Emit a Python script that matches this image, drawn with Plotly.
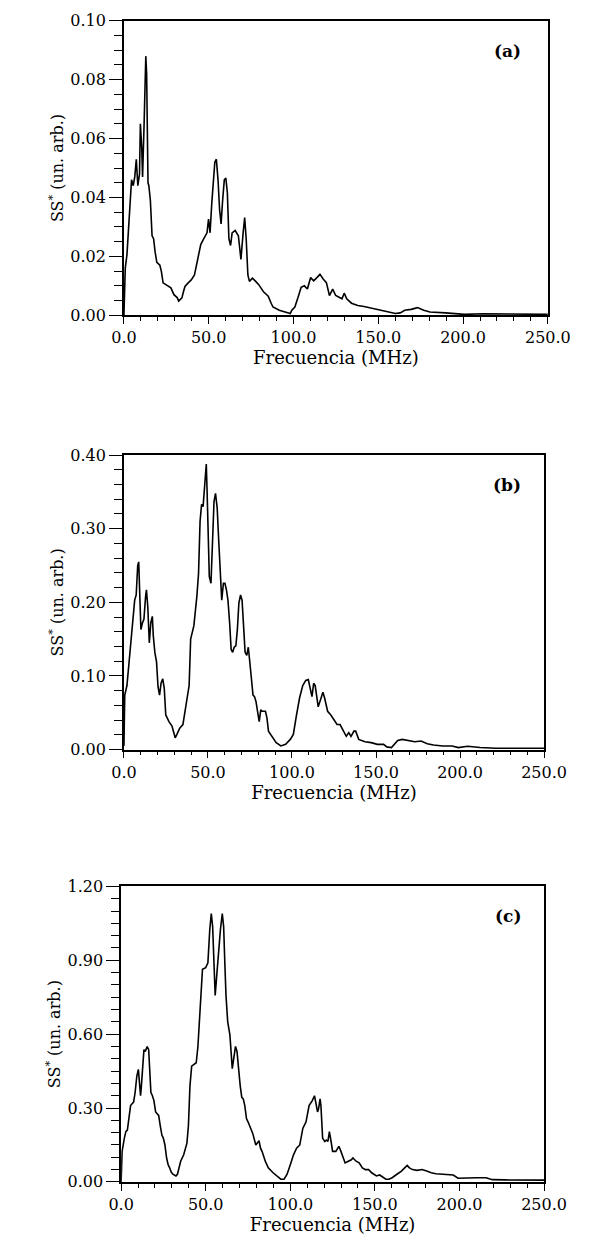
import plotly.graph_objects as go

# ---------------- data ----------------
freq_a = [0, 0.8, 1.8, 2.7, 3.6, 4.5, 5.5, 6.4, 7.3, 8.2, 9.2, 9.7, 10.5, 11.0, 11.9, 12.9, 13.4,
          14.2, 14.7, 15.6, 16.6, 17.5, 18.4, 19.4, 21.2, 22.1, 23.1, 24.9, 26.8, 27.7, 29.5, 31.4,
          32.3, 34.2, 35.1, 36.0, 37.9, 39.7, 41.6, 43.4, 45.3, 47.1, 49.0, 49.9, 50.8, 51.8, 52.7,
          53.6, 54.5, 55.5, 56.4, 57.3, 58.2, 59.2, 60.1, 61.0, 61.9, 62.9, 63.8, 65.6, 67.5, 69.0,
          70.3, 71.2, 72.1, 73.1, 74.0, 75.8, 77.7, 79.5, 82.3, 85.1, 86.9, 87.9, 91.6, 95.3, 98.1,
          99.0, 100.8, 102.7, 104.5, 106.4, 108.2, 110.1, 111.9, 113.8, 115.6, 117.5, 119.4, 121.2,
          123.1, 124.9, 126.8, 128.6, 129.9, 131.4, 134.2, 137.9, 141.6, 145.3, 149.0, 152.7, 156.4,
          160.1, 162.9, 165.6, 169.4, 173.1, 176.8, 180.5, 189.7, 200.8, 211.9, 230.5, 250.0]
ss_a = [0.000, 0.016, 0.0206, 0.0295, 0.0373, 0.046, 0.044, 0.047, 0.053, 0.044, 0.048, 0.065, 0.057,
        0.047, 0.065, 0.088, 0.082, 0.045, 0.044, 0.039, 0.027, 0.026, 0.0215, 0.018, 0.017, 0.0148,
        0.011, 0.0104, 0.0098, 0.0093, 0.007, 0.006, 0.0048, 0.0059, 0.008, 0.0098, 0.011, 0.012,
        0.0137, 0.019, 0.024, 0.026, 0.028, 0.0327, 0.028, 0.038, 0.046, 0.052, 0.053, 0.046, 0.036,
        0.031, 0.039, 0.046, 0.0466, 0.0416, 0.026, 0.0237, 0.028, 0.0288, 0.027, 0.019, 0.028,
        0.0332, 0.026, 0.0137, 0.0115, 0.0126, 0.0115, 0.0104, 0.008, 0.0065, 0.004, 0.0028, 0.0017,
        0.0011, 0.0006, 0.0017, 0.0028, 0.0061, 0.0095, 0.010, 0.0089, 0.0128, 0.0117, 0.0128,
        0.0139, 0.0123, 0.0111, 0.0067, 0.0089, 0.0067, 0.0061, 0.0056, 0.0075, 0.0056, 0.0041,
        0.0033, 0.003, 0.0025, 0.0022, 0.0017, 0.0011, 0.0006, 0.0008, 0.0017, 0.002, 0.0026,
        0.0017, 0.0011, 0.0008, 0.0003, 0.0005, 0.0003, 0.0003]

freq_b = [0, 0.5, 1.8, 2.7, 4.5, 6.4, 7.3, 8.2, 8.8, 9.4, 10.1, 11.0, 11.9, 12.9, 13.4, 14.2, 15.1,
          16.0, 16.9, 17.5, 18.4, 19.4, 20.3, 21.2, 22.1, 23.1, 24.0, 24.9, 26.8, 28.6, 30.5, 31.4,
          33.2, 35.1, 37.0, 38.8, 39.7, 41.6, 43.4, 44.4, 45.3, 46.2, 47.1, 48.1, 49.0, 49.5, 50.3,
          50.8, 51.8, 52.7, 53.6, 54.5, 55.5, 56.4, 57.3, 58.2, 59.2, 60.1, 61.0, 61.9, 62.9, 63.8,
          64.7, 65.6, 66.6, 67.5, 68.4, 69.4, 70.3, 71.2, 72.1, 73.1, 74.0, 74.9, 75.8, 76.8, 77.7,
          78.6, 79.5, 80.5, 81.4, 82.3, 84.2, 85.1, 86.0, 87.9, 90.6, 93.4, 96.2, 99.0, 100.8, 102.7,
          104.5, 106.4, 108.2, 109.7, 111.0, 111.9, 112.9, 113.8, 115.6, 116.6, 117.5, 118.4, 119.4,
          121.2, 123.1, 124.9, 126.8, 128.6, 130.5, 132.3, 133.8, 135.1, 136.9, 137.9, 139.7, 143.4,
          147.1, 150.8, 154.5, 156.4, 159.2, 161.0, 162.9, 165.6, 169.4, 173.1, 176.8, 180.5, 184.2,
          189.7, 195.3, 199.0, 204.5, 211.9, 221.2, 230.5, 245.3, 250.0]
ss_b = [0.005, 0.074, 0.087, 0.11, 0.152, 0.203, 0.21, 0.25, 0.255, 0.217, 0.163, 0.172, 0.177,
        0.208, 0.217, 0.194, 0.145, 0.172, 0.181, 0.154, 0.132, 0.119, 0.085, 0.074, 0.09, 0.096,
        0.083, 0.047, 0.038, 0.032, 0.016, 0.02, 0.029, 0.034, 0.065, 0.087, 0.15, 0.168, 0.208,
        0.239, 0.31, 0.333, 0.33, 0.368, 0.388, 0.35, 0.293, 0.235, 0.226, 0.288, 0.337, 0.348,
        0.328, 0.284, 0.235, 0.203, 0.226, 0.226, 0.217, 0.203, 0.172, 0.136, 0.132, 0.139, 0.141,
        0.163, 0.199, 0.21, 0.203, 0.163, 0.132, 0.128, 0.139, 0.119, 0.1, 0.074, 0.072, 0.065,
        0.052, 0.038, 0.054, 0.052, 0.052, 0.043, 0.025, 0.018, 0.0094, 0.0049, 0.0071, 0.0138,
        0.0205, 0.047, 0.07, 0.087, 0.094, 0.095, 0.083, 0.072, 0.09, 0.087, 0.058, 0.065, 0.074,
        0.078, 0.07, 0.052, 0.047, 0.041, 0.034, 0.034, 0.025, 0.018, 0.023, 0.018, 0.025, 0.025,
        0.0138, 0.0107, 0.0094, 0.0071, 0.0071, 0.0036, 0.0027, 0.0071, 0.0125, 0.0138, 0.0125,
        0.0107, 0.0116, 0.008, 0.0062, 0.0049, 0.0049, 0.0027, 0.0045, 0.0027, 0.0018, 0.0018,
        0.0018, 0.0018]

freq_c = [0, 0.6, 1.9, 2.8, 3.7, 4.6, 5.6, 6.5, 7.4, 8.3, 9.3, 10.2, 10.7, 11.5, 12.0, 13.0, 13.5,
          14.3, 15.4, 16.3, 17.0, 17.6, 18.5, 19.4, 20.4, 21.3, 22.2, 23.1, 24.1, 25.0, 25.9, 26.9,
          27.8, 28.7, 29.6, 30.6, 32.4, 33.3, 34.3, 35.2, 37.0, 38.9, 39.8, 40.7, 41.7, 43.5, 44.4,
          45.4, 46.3, 47.2, 48.1, 50.0, 51.3, 52.4, 53.3, 54.1, 55.0, 55.6, 56.5, 57.4, 58.7, 59.8,
          60.6, 61.3, 62.0, 63.0, 64.3, 65.7, 66.7, 67.6, 68.5, 69.4, 70.4, 71.3, 72.2, 73.1, 74.1,
          75.0, 75.9, 77.8, 79.6, 80.6, 81.5, 82.4, 83.3, 85.2, 87.0, 89.8, 92.6, 94.4, 96.3, 98.1,
          100.0, 101.9, 103.7, 105.6, 107.4, 109.3, 111.1, 113.0, 114.3, 115.4, 116.1, 116.7, 117.6,
          118.1, 119.1, 120.4, 121.3, 122.2, 123.1, 124.1, 125.0, 126.9, 128.7, 129.6, 131.5, 132.4,
          134.3, 136.1, 137.0, 138.9, 140.7, 142.6, 144.4, 146.3, 148.1, 150.9, 152.8, 154.6, 156.5,
          158.3, 160.2, 163.0, 165.7, 167.6, 169.1, 170.4, 172.2, 175.0, 177.8, 180.6, 183.3, 186.1,
          189.8, 193.5, 196.3, 199.1, 204.6, 210.2, 215.7, 219.4, 226.9, 236.1, 247.2, 250.0]
ss_c = [0.0, 0.124, 0.177, 0.204, 0.21, 0.257, 0.31, 0.317, 0.324, 0.364, 0.43, 0.457, 0.417, 0.35,
        0.39, 0.497, 0.537, 0.53, 0.55, 0.537, 0.444, 0.364, 0.35, 0.33, 0.284, 0.277, 0.27, 0.23,
        0.19, 0.177, 0.15, 0.097, 0.07, 0.057, 0.04, 0.031, 0.024, 0.031, 0.064, 0.084, 0.11, 0.157,
        0.23, 0.39, 0.47, 0.477, 0.484, 0.55, 0.65, 0.72, 0.864, 0.87, 0.89, 1.024, 1.09, 1.037,
        0.837, 0.757, 0.837, 0.917, 1.024, 1.09, 1.037, 0.89, 0.757, 0.65, 0.597, 0.46, 0.52, 0.55,
        0.53, 0.45, 0.39, 0.344, 0.337, 0.31, 0.257, 0.244, 0.23, 0.197, 0.15, 0.157, 0.167, 0.137,
        0.124, 0.084, 0.057, 0.037, 0.021, 0.011, 0.011, 0.031, 0.07, 0.11, 0.137, 0.15, 0.217,
        0.244, 0.31, 0.33, 0.35, 0.31, 0.284, 0.297, 0.337, 0.31, 0.177, 0.164, 0.17, 0.164, 0.204,
        0.164, 0.124, 0.124, 0.144, 0.13, 0.097, 0.077, 0.084, 0.09, 0.097, 0.084, 0.077, 0.057,
        0.05, 0.05, 0.037, 0.024, 0.028, 0.02, 0.011, 0.011, 0.017, 0.031, 0.044, 0.057, 0.067,
        0.057, 0.05, 0.047, 0.05, 0.044, 0.037, 0.033, 0.031, 0.028, 0.028, 0.015, 0.017, 0.017,
        0.017, 0.009, 0.008, 0.007, 0.007, 0.007]

panel_labels = ["(a)", "(b)", "(c)"]
y_ranges = [0.10, 0.40, 1.20]
y_dticks = [0.02, 0.10, 0.30]
y_minor = [0.005, 0.02, 0.05]
x_tickvals = [0, 50, 100, 150, 200, 250]
x_title = "Frecuencia (MHz)"
y_title = "SS<sup>*</sup> (un. arb.)"

# ---------------- layout geometry (pixels) ----------------
W, H = 600, 1249
boxes = [(118, 569, 12, 311), (118, 565, 453, 752), (115, 565, 891, 1191)]

series = [(freq_a, ss_a), (freq_b, ss_b), (freq_c, ss_c)]

fig = go.Figure()
SERIF = "DejaVu Serif"

for i, ((fx, sy), (x0, x1, y0, y1)) in enumerate(zip(series, boxes)):
    n = "" if i == 0 else str(i + 1)
    fig.add_trace(go.Scatter(x=fx, y=sy, mode="lines", xaxis="x" + n, yaxis="y" + n,
                             line=dict(color="black", width=1.6), showlegend=False))
    xdom = [x0 / W, x1 / W]
    ydom = [1 - y1 / H, 1 - y0 / H]
    fig.layout["xaxis" + n] = dict(
        domain=xdom, anchor="y" + n, range=[0, 250], tickvals=x_tickvals, tickformat=".1f",
        ticks="outside", ticklen=7, tickwidth=1.3, tickcolor="black",
        minor=dict(dtick=10, ticks="outside", ticklen=4, tickwidth=1.1, tickcolor="black"),
        showline=True, linecolor="black", linewidth=1.6, mirror=True, showgrid=False,
        zeroline=False, tickfont=dict(family=SERIF, size=16, color="black"),
        title=dict(text=x_title, font=dict(family=SERIF, size=18, color="black"), standoff=2),
    )
    fig.layout["yaxis" + n] = dict(
        domain=ydom, anchor="x" + n, range=[0, y_ranges[i]], dtick=y_dticks[i], tick0=0,
        tickformat=".2f", ticks="outside", ticklen=13, tickwidth=1.3, tickcolor="black",
        minor=dict(dtick=y_minor[i], ticks="outside", ticklen=8, tickwidth=1.1, tickcolor="black"),
        showline=True, linecolor="black", linewidth=1.6, mirror=True, showgrid=False,
        zeroline=False, tickfont=dict(family=SERIF, size=16, color="black"),
        title=dict(text=y_title, font=dict(family=SERIF, size=16, color="black"), standoff=3),
    )
    fig.add_annotation(text="<b>" + panel_labels[i] + "</b>", xref="x" + n + " domain",
                       yref="y" + n + " domain", x=(543 - x0) / (x1 - x0),
                       y=1 - 18 / (y1 - y0), showarrow=False,
                       font=dict(family=SERIF, size=17, color="black"))

fig.update_layout(width=W, height=H, margin=dict(l=0, r=0, t=0, b=0),
                  paper_bgcolor="white", plot_bgcolor="white")

fig.write_html("out.html")
